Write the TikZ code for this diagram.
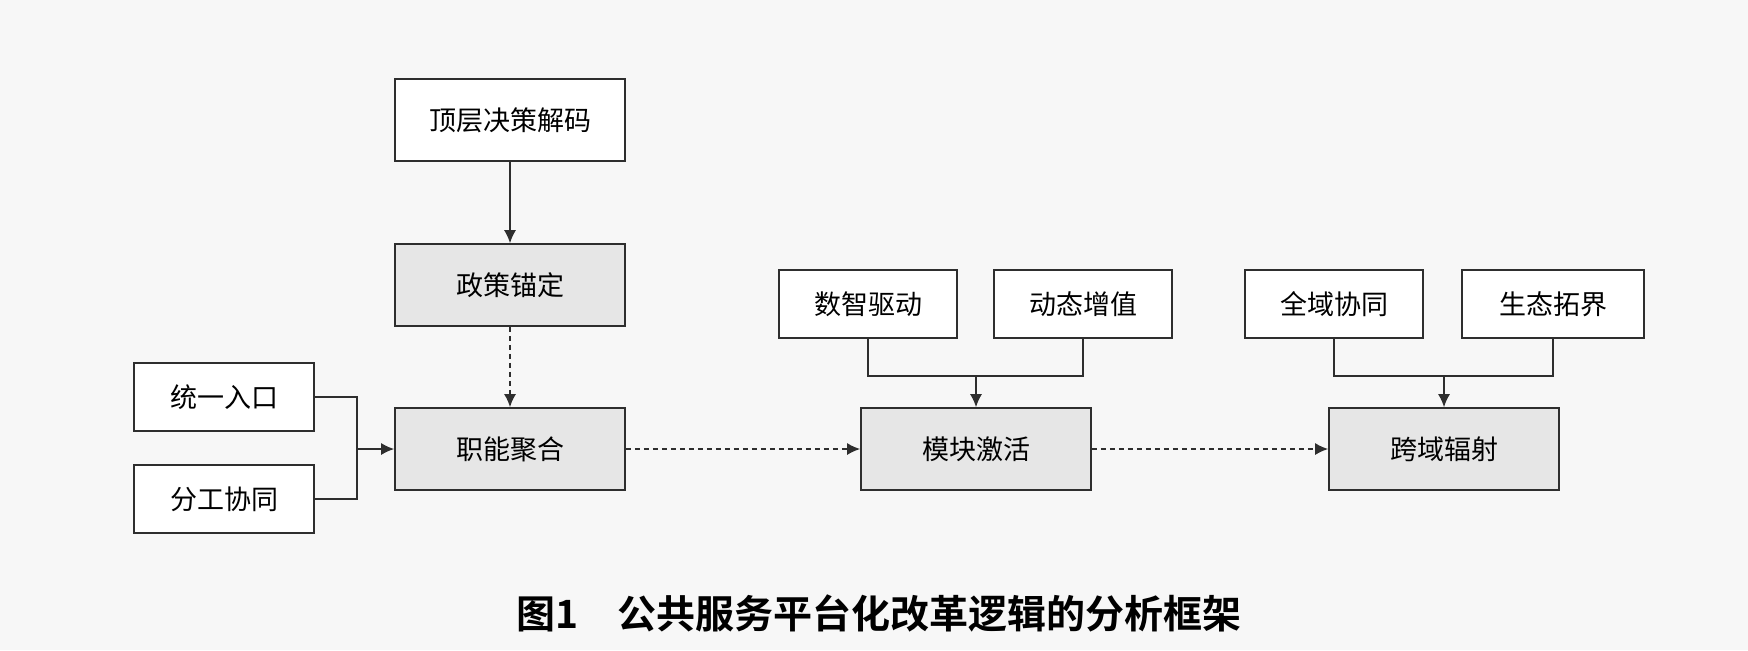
\documentclass[tikz,border=0pt]{standalone}
\usepackage{fontspec}
\setmainfont{Noto Sans CJK SC}[BoldFont={Noto Sans CJK SC Bold}]
\usetikzlibrary{arrows.meta}
\definecolor{Frame}{HTML}{2E2E2E}
\definecolor{Paper}{HTML}{F7F7F7}
\definecolor{Shade}{HTML}{E6E6E6}
\tikzset{
plainbox/.style={draw=Frame, line width=0.8pt, fill=white, align=center, inner sep=0pt, minimum width=89pt, minimum height=34pt, font=\fontsize{13.5pt}{16pt}\selectfont},
stagebox/.style={plainbox, fill=Shade, minimum width=115pt, minimum height=41pt},
flowline/.style={line width=0.8pt, draw=Frame},
flowarrow/.style={flowline, -{Latex[length=6.5pt,width=6pt]}},
flowdash/.style={flowarrow, line width=0.9pt, dash pattern=on 2.5pt off 2pt}
}
\begin{document}
\begin{tikzpicture}[x=0.5pt, y=-0.5pt]
  \fill[Paper] (0,0) rectangle (1748,650);
  \useasboundingbox (0,0) rectangle (1748,650);
  % main column and row
  \node[plainbox, minimum width=115pt, minimum height=41pt] (decode) at (510,120) {顶层决策解码};
  \node[stagebox] (anchor) at (510,285) {政策锚定};
  \node[stagebox] (merge) at (510,449) {职能聚合};
  \node[stagebox] (module) at (976,449) {模块激活};
  \node[stagebox] (radiate) at (1444,449) {跨域辐射};
  % side inputs
  \node[plainbox, minimum width=90pt] (entry) at (224,397) {统一入口};
  \node[plainbox, minimum width=90pt] (divide) at (224,499) {分工协同};
  \node[plainbox] (data) at (868,304) {数智驱动};
  \node[plainbox] (value) at (1083,304) {动态增值};
  \node[plainbox] (whole) at (1334,304) {全域协同};
  \node[plainbox, minimum width=91pt] (eco) at (1553,304) {生态拓界};
  \coordinate (mergejoin) at (357,449);
  \coordinate (modulejoin) at (976,376);
  \coordinate (radiatejoin) at (1444,376);
  \draw[flowarrow] (decode) -- (anchor);
  \draw[flowdash] (anchor) -- (merge);
  \draw[flowline] (entry.east) -| (mergejoin) |- (divide.east);
  \draw[flowarrow] (mergejoin) -- (merge);
  \draw[flowline] (data.south) |- (modulejoin) -| (value.south);
  \draw[flowarrow] (modulejoin) -- (module);
  \draw[flowline] (whole.south) |- (radiatejoin) -| (eco.south);
  \draw[flowarrow] (radiatejoin) -- (radiate);
  \draw[flowdash] (merge) -- (module);
  \draw[flowdash] (module) -- (radiate);
  % caption
  \node[font=\fontsize{19.5pt}{22pt}\selectfont\bfseries] (caption) at (879,613) {图1\hspace{1em}公共服务平台化改革逻辑的分析框架};
\end{tikzpicture}
\end{document}
